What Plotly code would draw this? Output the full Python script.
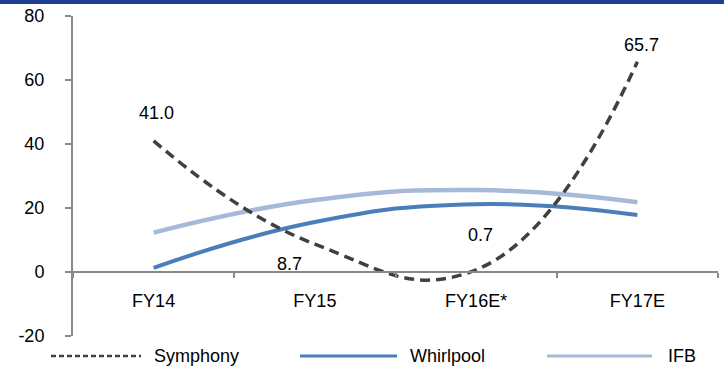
import plotly.graph_objects as go

# Year-on-year growth (%) by company
years = ["FY14", "FY15", "FY16E*", "FY17E"]
symphony = [41.0, 8.7, 0.7, 65.7]
whirlpool = [1.3, 15.6, 21.2, 17.8]
ifb = [12.3, 22.5, 25.6, 21.8]

series_names = ["Symphony", "Whirlpool", "IFB"]
y_ticks = [-20, 0, 20, 40, 60, 80]
y_tick_text = ["-20", "0", "20", "40", "60", "80"]

W, H = 724, 374
ML, MR, MT, MB = 73, 6, 16, 38
PW, PH = W - ML - MR, H - MT - MB

FONT = "Liberation Sans, Arial, sans-serif"
C_SYM = "#404040"
C_WHR = "#4A7EBB"
C_IFB = "#A7B9D8"
AXIS = "#898989"


def px_x(px):
    return (px - ML) / PW


def px_y(py):
    return 1 - (py - MT) / PH


fig = go.Figure()
fig.add_trace(go.Scatter(x=years, y=ifb, mode="lines", name=series_names[2],
                         line=dict(color=C_IFB, width=4.5, shape="spline", smoothing=1.3)))
fig.add_trace(go.Scatter(x=years, y=whirlpool, mode="lines", name=series_names[1],
                         line=dict(color=C_WHR, width=4, shape="spline", smoothing=1.3)))
fig.add_trace(go.Scatter(x=years, y=symphony, mode="lines", name=series_names[0],
                         line=dict(color=C_SYM, width=3.5, shape="spline", smoothing=1.3,
                                   dash="10px,6px")))

# value labels for Symphony
label_shift = [(3, 28), (-25, -20), (4, 35), (4, 17)]
for xv, yv, (dx, dy) in zip(years, symphony, label_shift):
    fig.add_annotation(x=xv, y=yv, text=f"{yv:.1f}", showarrow=False,
                       xshift=dx, yshift=dy, font=dict(family=FONT, size=18, color="#000"))

# legend drawn below the plot
legend_items = [
    (series_names[0], C_SYM, 2.5, "5px,3px", 51, 141, 152),
    (series_names[1], C_WHR, 3, "solid", 300, 397, 408),
    (series_names[2], C_IFB, 3, "solid", 547, 652, 666),
]
ly = px_y(356)
for name, col, wd, dsh, x0, x1, tx in legend_items:
    fig.add_shape(type="line", xref="paper", yref="paper", x0=px_x(x0), x1=px_x(x1),
                  y0=ly, y1=ly, line=dict(color=col, width=wd, dash=dsh))
    fig.add_annotation(xref="paper", yref="paper", x=px_x(tx), y=ly, text=name,
                       showarrow=False, xanchor="left", yanchor="middle",
                       font=dict(family=FONT, size=18, color="#000"))

# header band
fig.add_shape(type="rect", xref="paper", yref="paper", x0=px_x(0), x1=px_x(W),
              y0=px_y(4), y1=px_y(0), line=dict(width=0), fillcolor="#1F3E8E")

fig.update_layout(
    width=W, height=H,
    margin=dict(l=ML, r=MR, t=MT, b=MB),
    paper_bgcolor="white", plot_bgcolor="white",
    showlegend=False,
    font=dict(family=FONT, size=18, color="#000"),
    xaxis=dict(type="category", range=[-0.5, 3.5], anchor="free", position=0.2,
               showline=True, linecolor=AXIS, linewidth=2, showgrid=False,
               ticks="outside", tickson="boundaries", ticklen=5, tickcolor=AXIS,
               tickwidth=2, ticklabelstandoff=12, zeroline=False),
    yaxis=dict(range=[-20, 80], tickvals=y_ticks, ticktext=y_tick_text, showline=True,
               linecolor=AXIS, linewidth=2, showgrid=False, zeroline=False,
               ticks="outside", ticklen=6, tickcolor=AXIS, tickwidth=2,
               ticklabelstandoff=17),
)

fig.write_html("out.html")
